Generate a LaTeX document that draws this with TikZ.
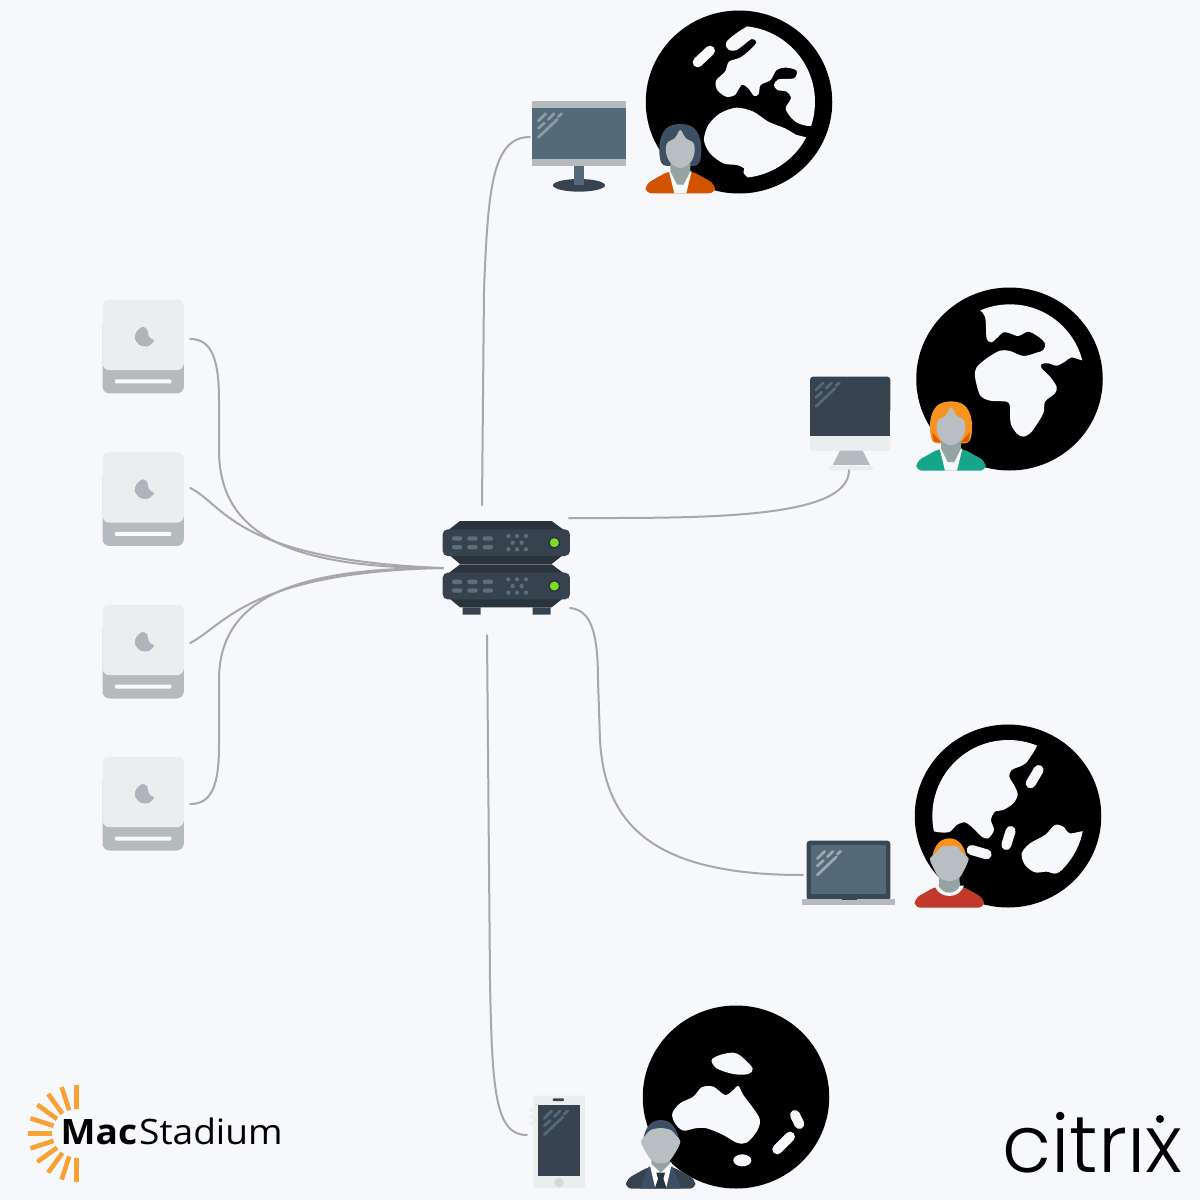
\documentclass[tikz,border=0pt]{standalone}
\usepackage{fontspec}
\setmainfont[FakeStretch=1.06]{Open Sans}
\newfontfamily\logofont{Poppins Light}
\usetikzlibrary{calc,shapes.geometric}
\definecolor{pagebg}{HTML}{F6F8FC}
\definecolor{wire}{HTML}{A8A8A8}
\definecolor{minitop}{HTML}{EBEEEF}
\definecolor{minibase}{HTML}{B4BABD}
\definecolor{applegrey}{HTML}{AEB4B9}
\definecolor{slate}{HTML}{546A79}
\definecolor{slatedark}{HTML}{37444F}
\definecolor{glarelight}{HTML}{8E9CA6}
\definecolor{rackface}{HTML}{36434F}
\definecolor{rackdark}{HTML}{2A343C}
\definecolor{rackpill}{HTML}{5D6D7A}
\definecolor{ledgreen}{HTML}{80DC22}
\definecolor{skin}{HTML}{B9BEC2}
\definecolor{neckgrey}{HTML}{95A3A3}
\definecolor{sunorange}{HTML}{F9A133}
\definecolor{hairdark}{HTML}{3D4F63}
\definecolor{hairorange}{HTML}{F7931E}
\definecolor{hairlow}{HTML}{E05A00}
\definecolor{jacketorange}{HTML}{D35400}
\definecolor{jacketteal}{HTML}{17A589}
\definecolor{jacketred}{HTML}{C0392B}
\tikzset{
  zoomed/.style ={x=.3333pt, y=-.3333pt},
  link/.style   ={draw=wire, line width=2pt, line cap=round},
  devbox/.style ={inner sep=0pt, minimum height=4pt},
  globe/.style  ={ellipse, fill=black, inner sep=0pt, minimum width=186.5pt, minimum height=183pt},
  land/.style   ={fill=pagebg},
  isle/.style   ={draw=pagebg, line width=10pt, line cap=round},
  glareln/.style={line width=2.7pt, line cap=round},
  ray/.style    ={draw=sunorange, line width=4.6pt},
}
% screen reflection, measured from the top left of the screen
\newcommand{\screenglare}[2]{
  \begin{scope}[shift={#1},zoomed]
    \draw[glareln,draw=#2] (18,40) -- (40,18) (48,35) -- (65,18) (78,27) -- (88,18) (18,62) -- (36,46) (18,89) -- (75,35);
  \end{scope}
}
% one mac mini, top left at #1
\newcommand{\miniicon}[1]{
  \begin{scope}[shift={#1},zoomed]
    \fill[minibase,rounded corners=7pt] (0,60) rectangle (244,282);
    \fill[minitop,rounded corners=7pt] (0,0) rectangle (244,212);
    \fill[applegrey] plot[smooth cycle,tension=.5] coordinates {(120,82) (102,97) (97,117) (112,137) (137,140) (155,124) (146,118) (138,108) (134,90)};
    \fill[white!70!minitop,rounded corners=1pt] (37,240) rectangle (207,252);
  \end{scope}
}
\newcommand{\womanicon}[4]{
  \begin{scope}[shift={#1},zoomed]
    \fill[#2] plot[smooth cycle,tension=.6] coordinates {(0,-208) (-42,-195) (-62,-150) (-56,-90) (-20,-82) (20,-82) (56,-90) (62,-150) (42,-195)};
    \fill[#3] (-56,-115) -- (-30,-85) -- (-52,-88) -- cycle (56,-115) -- (30,-85) -- (52,-88) -- cycle;
    \fill[#4,rounded corners=6pt] (-104,0) -- (-104,-28) -- (-36,-66) -- (36,-66) -- (104,-28) -- (104,0) -- cycle;
    \fill[white!92!neckgrey] (-34,-66) -- (-18,0) -- (18,0) -- (34,-66) -- cycle;
    \fill[neckgrey] (-30,-90) -- (30,-90) -- (30,-66) -- (10,-26) -- (-10,-26) -- (-30,-66) -- cycle;
    \fill[skin] plot[smooth cycle,tension=.55] coordinates {(0,-190) (-16,-166) (-40,-150) (-42,-118) (-28,-90) (0,-76) (28,-90) (42,-118) (40,-150) (16,-166)};
  \end{scope}
}
\begin{document}
\begin{tikzpicture}[x=1pt,y=-1pt]
\useasboundingbox (0,0) rectangle (1200,1200);
\fill[pagebg] (0,0) rectangle (1200,1200);

% switch in the middle
\begin{scope}[shift={(430,500)},zoomed]
  \foreach \dy in {0,130}{
    \begin{scope}[yshift=-\dy*.3333pt]
      \fill[rackdark] (90,63) -- (365,63) -- (418,102) -- (418,150) -- (365,192) -- (90,192) -- (40,150) -- (40,102) -- cycle;
      \fill[rackface,rounded corners=5pt] (38,88) rectangle (420,168);
      \foreach \px in {66,112,158}{
        \fill[rackpill,rounded corners=2pt] (\px,109) rectangle +(31,13);
        \fill[rackpill,rounded corners=2pt] (\px,135) rectangle +(31,13);
      }
      \foreach \px/\py in {235/108,261/108,288/108,248/128,275/128,235/148,261/148,288/148}
        \fill[rackpill] (\px,\py) circle (6.5);
      \fill[rackdark] (373,128) circle (18);
      \fill[ledgreen] (373,128) circle (13.5);
    \end{scope}
  }
  \fill[rackface] (98,322) rectangle (152,344) (308,322) rectangle (362,344);
\end{scope}
\node[devbox,minimum width=126pt] (hub) at (506,568) {};
\coordinate (hubtop) at (482,505);
\coordinate (hubright) at (569,518);
\coordinate (hublow) at (570,608);
\coordinate (hubdown) at (487,635);

% mac minis on the left
\foreach \i/\ty in {1/299.5,2/452,3/604.5,4/756.5}{
  \miniicon{(102.5,\ty)}
}
\node[devbox,minimum width=94pt] (miniA) at (143,339) {};
\node[devbox,minimum width=94pt] (miniB) at (143,488) {};
\node[devbox,minimum width=94pt] (miniC) at (143,643) {};
\node[devbox,minimum width=94pt] (miniD) at (143,804) {};

% desktop monitor and globe
\begin{scope}[shift={(520,0)},zoomed]
  \fill[minibase] (37,303) rectangle (318,497);
  \fill[slate] (37,323) rectangle (318,478);
  \fill[slate] (163,497) rectangle (193,540);
  \fill[slatedark] (177,556) ellipse (78 and 19);
  \fill[slate] (163,535) rectangle (193,555);
\end{scope}
\screenglare{(532.3,107.7)}{glarelight}
\node[devbox,minimum width=98pt] (desk) at (579,137) {};
\node[globe] (globeA) at (739,102) {};
\begin{scope}[shift={(520,0)},zoomed]
  \clip (657,306) circle (228);
  \fill[land] plot[smooth cycle,tension=.5] coordinates {(672,85) (620,125) (625,148) (650,150) (695,117) (709,127) (695,145) (662,172) (627,185) (615,215) (588,242) (592,270) (618,290) (645,285) (665,255) (685,265) (702,288) (716,282) (722,255) (752,240) (770,210) (800,203) (830,212) (822,235) (775,238) (762,255) (772,270) (800,275) (813,295) (797,325) (815,355) (840,372) (880,376) (920,330) (900,150) (760,50)};
  \fill[land] plot[smooth cycle,tension=.5] coordinates {(552,420) (565,375) (600,340) (650,323) (700,335) (745,365) (795,385) (830,405) (858,412) (905,440) (780,590) (678,528) (672,505) (650,495) (610,490) (570,460)};
  \draw[isle] (533,187) -- (570,152);
\end{scope}
\womanicon{(680.3,193.3)}{hairdark}{hairdark}{jacketorange}

% imac and globe
\begin{scope}[shift={(790,280)},zoomed]
  \fill[minitop,rounded corners=3pt] (60,440) rectangle (301,513);
  \fill[slatedark,rounded corners=3pt] (60,290) rectangle (301,400);
  \fill[slatedark] (60,320) rectangle (301,468);
  \fill[minibase] (150,512) -- (218,512) -- (240,555) -- (128,555) -- cycle;
  \fill[minitop,rounded corners=3pt] (115,557) rectangle (250,572);
\end{scope}
\screenglare{(810,376.7)}{slate}
\node[devbox,minimum width=4pt] (imac) at (849,468) {};
\node[globe] (globeB) at (1009.5,379) {};
\begin{scope}[shift={(790,280)},zoomed]
  \clip (660,297) circle (224);
  \fill[land] plot[smooth cycle,tension=.5] coordinates {(560,70) (585,110) (590,175) (605,187) (620,175) (640,157) (660,160) (685,168) (715,155) (745,170) (765,190) (760,210) (740,218) (700,228) (660,213) (630,212) (590,235) (560,262) (555,290) (570,345) (600,362) (650,365) (660,380) (662,430) (680,460) (700,470) (725,455) (760,400) (765,365) (795,340) (800,320) (780,290) (755,265) (755,252) (775,250) (800,257) (825,245) (845,232) (890,240) (920,180) (800,30) (620,20)};
\end{scope}
\womanicon{(951,470.7)}{hairorange}{hairlow}{jacketteal}

% laptop and globe
\begin{scope}[shift={(790,715)},zoomed]
  \fill[slatedark!90!slate,rounded corners=3pt] (50,377) rectangle (301,556);
  \fill[slate] (64,391) rectangle (288,537);
  \fill[minibase] (35,552) rectangle (316,570);
  \fill[slatedark] (155,552) rectangle (200,556);
\end{scope}
\screenglare{(811.3,845.3)}{glarelight!60!minibase}
\node[devbox,minimum width=4pt] (laptop) at (805,875) {};
\node[globe] (globeC) at (1008,816) {};
\begin{scope}[shift={(790,715)},zoomed]
  \clip (655,303) circle (228);
  \fill[land] plot[smooth cycle,tension=.5] coordinates {(740,70) (715,135) (695,152) (665,165) (658,185) (675,215) (683,240) (670,265) (640,285) (615,290) (603,315) (612,345) (595,370) (575,365) (550,340) (525,322) (500,330) (475,352) (420,345) (380,300) (420,130) (600,40)};
  \fill[land] plot[smooth cycle,tension=.5] coordinates {(890,350) (840,355) (820,335) (795,330) (765,360) (720,385) (695,415) (705,450) (735,472) (770,470) (800,475) (845,445) (900,400)};
  \draw[isle] (722,205) -- (746,165);
  \draw[isle] (649,390) -- (662,348);
  \draw[isle] (545,405) -- (590,418);
\end{scope}
\begin{scope}[shift={(949.3,907.7)},zoomed]
  \fill[hairorange] (-52,-150) .. controls (-45,-190) and (-25,-208) .. (0,-208) .. controls (25,-208) and (45,-190) .. (52,-150) -- cycle;
  \fill[jacketred,rounded corners=6pt] (-104,0) -- (-104,-28) -- (-40,-64) -- (40,-64) -- (104,-28) -- (104,0) -- cycle;
  \fill[white] (-44,-66) .. controls (-30,-25) and (30,-25) .. (44,-66) -- cycle;
  \fill[neckgrey] (-30,-95) -- (30,-95) -- (32,-66) .. controls (20,-38) and (-20,-38) .. (-32,-66) -- cycle;
  \fill[skin] plot[smooth cycle,tension=.55] coordinates {(0,-184) (-22,-184) (-44,-160) (-58,-148) (-48,-120) (-30,-90) (0,-80) (30,-90) (48,-120) (58,-148) (44,-160) (22,-184)};
\end{scope}

% phone and globe
\begin{scope}[shift={(520,1000)},zoomed]
  \fill[minitop,rounded corners=2pt] (40,287) rectangle (195,565);
  \fill[slatedark] (55,315) rectangle (181,527);
  \fill[slatedark,rounded corners=1pt] (98,295) rectangle (132,303);
  \fill[skin!45!minitop] (117,548) circle (14);
  \foreach \py in {330,350,370}
    \fill[minitop] (34,\py) circle (6);
\end{scope}
\screenglare{(538.3,1105)}{slate}
\node[devbox,minimum width=4pt] (phone) at (529,1135) {};
\node[globe] (globeD) at (736,1097) {};
\begin{scope}[shift={(520,1000)},zoomed]
  \fill[land] plot[smooth cycle,tension=.55] coordinates {(575,180) (600,165) (640,158) (665,170) (698,205) (685,222) (640,222) (590,205)};
  \fill[land] plot[smooth cycle,tension=.55] coordinates {(457,340) (480,310) (520,290) (545,262) (580,260) (615,285) (640,270) (655,258) (670,285) (700,325) (720,360) (710,395) (680,428) (650,428) (610,405) (560,385) (525,385) (490,392) (465,370)};
  \draw[isle] (825,345) -- (838,372);
  \draw[isle] (772,448) -- (810,410);
  \fill[land] (667,481) ellipse (27 and 18);
\end{scope}
\begin{scope}[shift={(660.7,1188.7)},zoomed]
  \fill[hairdark] (-52,-150) .. controls (-45,-190) and (-25,-206) .. (0,-206) .. controls (25,-206) and (47,-190) .. (54,-150) -- cycle;
  \fill[rackface,rounded corners=6pt] (-104,0) -- (-104,-28) -- (-36,-66) -- (36,-66) -- (104,-28) -- (104,0) -- cycle;
  \fill[hairdark] (-36,-66) -- (-62,0) -- (62,0) -- (36,-66) -- cycle;
  \fill[white] (-34,-78) -- (-16,0) -- (16,0) -- (34,-78) -- cycle;
  \fill[neckgrey] (-28,-95) -- (28,-95) -- (28,-75) -- (0,-48) -- (-28,-75) -- cycle;
  \fill[rackdark] (-13,-48) -- (13,-48) -- (8,-30) -- (18,0) -- (-18,0) -- (-8,-30) -- cycle;
  \fill[skin] plot[smooth cycle,tension=.55] coordinates {(0,-182) (-30,-176) (-46,-160) (-59,-142) (-46,-112) (-26,-84) (0,-76) (26,-84) (46,-112) (59,-142) (46,-160) (30,-176)};
\end{scope}

% logos
\foreach \a in {90,108,...,270}{
  \draw[ray] ($(76.7,1133.3)+(\a:24.3)$) -- ($(76.7,1133.3)+(\a:48.6)$);
}
\node[inner sep=0pt,anchor=base west,font=\fontsize{35}{35}\selectfont] (macstadium) at (60.5,1144.5) {\textbf{Mac}\hspace{2pt}Stadium};
\node[inner sep=0pt,anchor=base west,font=\logofont\fontsize{80}{80}\selectfont] (citrix) at (1002,1172) {citrıx};
\fill[black] (1160,1119) circle (4);

% links from the minis
\draw[link] (miniA.east) .. controls (212,339) and (219,360) .. (219,400) -- (219,450) .. controls (219,540) and (300,568) .. (hub.west);
\draw[link] (miniB.east) .. controls (225,505) and (235,560) .. (hub.west);
\draw[link] (miniC.east) .. controls (225,625) and (250,572) .. (hub.west);
\draw[link] (miniD.east) .. controls (212,804) and (219,785) .. (219,745) -- (219,680) .. controls (219,595) and (300,568) .. (hub.west);
% links to the users
\draw[link] (hubtop) -- (484,290) .. controls (488,190) and (492,137) .. (desk.west);
\draw[link] (hubright) .. controls (700,518) and (849,520) .. (imac.south);
\draw[link] (hublow) .. controls (590,610) and (598,630) .. (598,680) -- (600,740) .. controls (605,830) and (660,875) .. (laptop.west);
\draw[link] (hubdown) -- (490,980) .. controls (492,1090) and (495,1135) .. (phone.west);
\end{tikzpicture}
\end{document}
